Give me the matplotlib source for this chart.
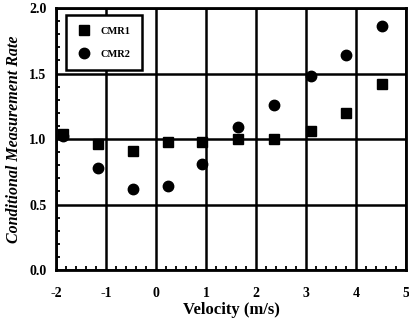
import matplotlib.pyplot as plt
from matplotlib.ticker import MultipleLocator

# velocity (m/s) and conditional measurement rate for both sensors
velocity = [-1.86, -1.16, -0.46, 0.24, 0.92, 1.64, 2.36, 3.10, 3.80, 4.52]
cmr1 = [1.04, 0.96, 0.905, 0.98, 0.98, 1.00, 1.00, 1.06, 1.20, 1.42]
cmr2 = [1.02, 0.78, 0.615, 0.645, 0.81, 1.095, 1.26, 1.485, 1.645, 1.86]

x_ticks = [-2, -1, 0, 1, 2, 3, 4, 5]
y_ticks = [0.0, 0.5, 1.0, 1.5, 2.0]

plt.rcParams['font.family'] = ['Liberation Serif', 'DejaVu Serif']

fig = plt.figure(figsize=(4.1, 3.24), dpi=100)
ax = fig.add_axes([0.1366, 0.1667, 0.8534, 0.8083])

ax.plot(velocity, cmr1, linestyle="none", marker="s", markersize=7,
        color="black", label="CMR1", zorder=3)
ax.plot(velocity, cmr2, linestyle="none", marker="o", markersize=7.5,
        color="black", label="CMR2", zorder=3)

ax.set_xlim(-2, 5)
ax.set_ylim(0, 2)
ax.set_xticks(x_ticks)
ax.set_yticks(y_ticks)
ax.set_xticklabels([str(v) for v in x_ticks], fontweight="bold", fontsize=10)
ax.set_yticklabels([f"{v:.1f}" for v in y_ticks], fontweight="bold", fontsize=10)
ax.xaxis.set_minor_locator(MultipleLocator(0.2))
ax.yaxis.set_minor_locator(MultipleLocator(0.1))
ax.tick_params(which="both", direction="in", top=False, right=False, width=1.3)
ax.tick_params(axis="x", which="major", length=0, pad=12)
ax.tick_params(axis="y", which="major", length=0, pad=7)
ax.tick_params(which="minor", length=3)

ax.grid(True, which="major", color="black", linewidth=1.8)
for s in ax.spines.values():
    s.set_linewidth(2)

ax.set_xlabel("Velocity (m/s)", fontweight="bold", fontsize=12, labelpad=2)
ax.set_ylabel("Conditional Measurement Rate", fontweight="bold",
              fontstyle="italic", fontsize=11.5, labelpad=5)

leg = ax.legend(loc="upper left", bbox_to_anchor=(0.02, 0.985), frameon=True,
                fancybox=False, framealpha=1, edgecolor="black",
                prop={"weight": "bold", "size": 7.5}, handletextpad=1.0,
                borderpad=1.1, labelspacing=1.3, handlelength=1.2,
                borderaxespad=0.3)
leg.get_frame().set_linewidth(1.8)

fig.savefig("out.png", dpi=100)
